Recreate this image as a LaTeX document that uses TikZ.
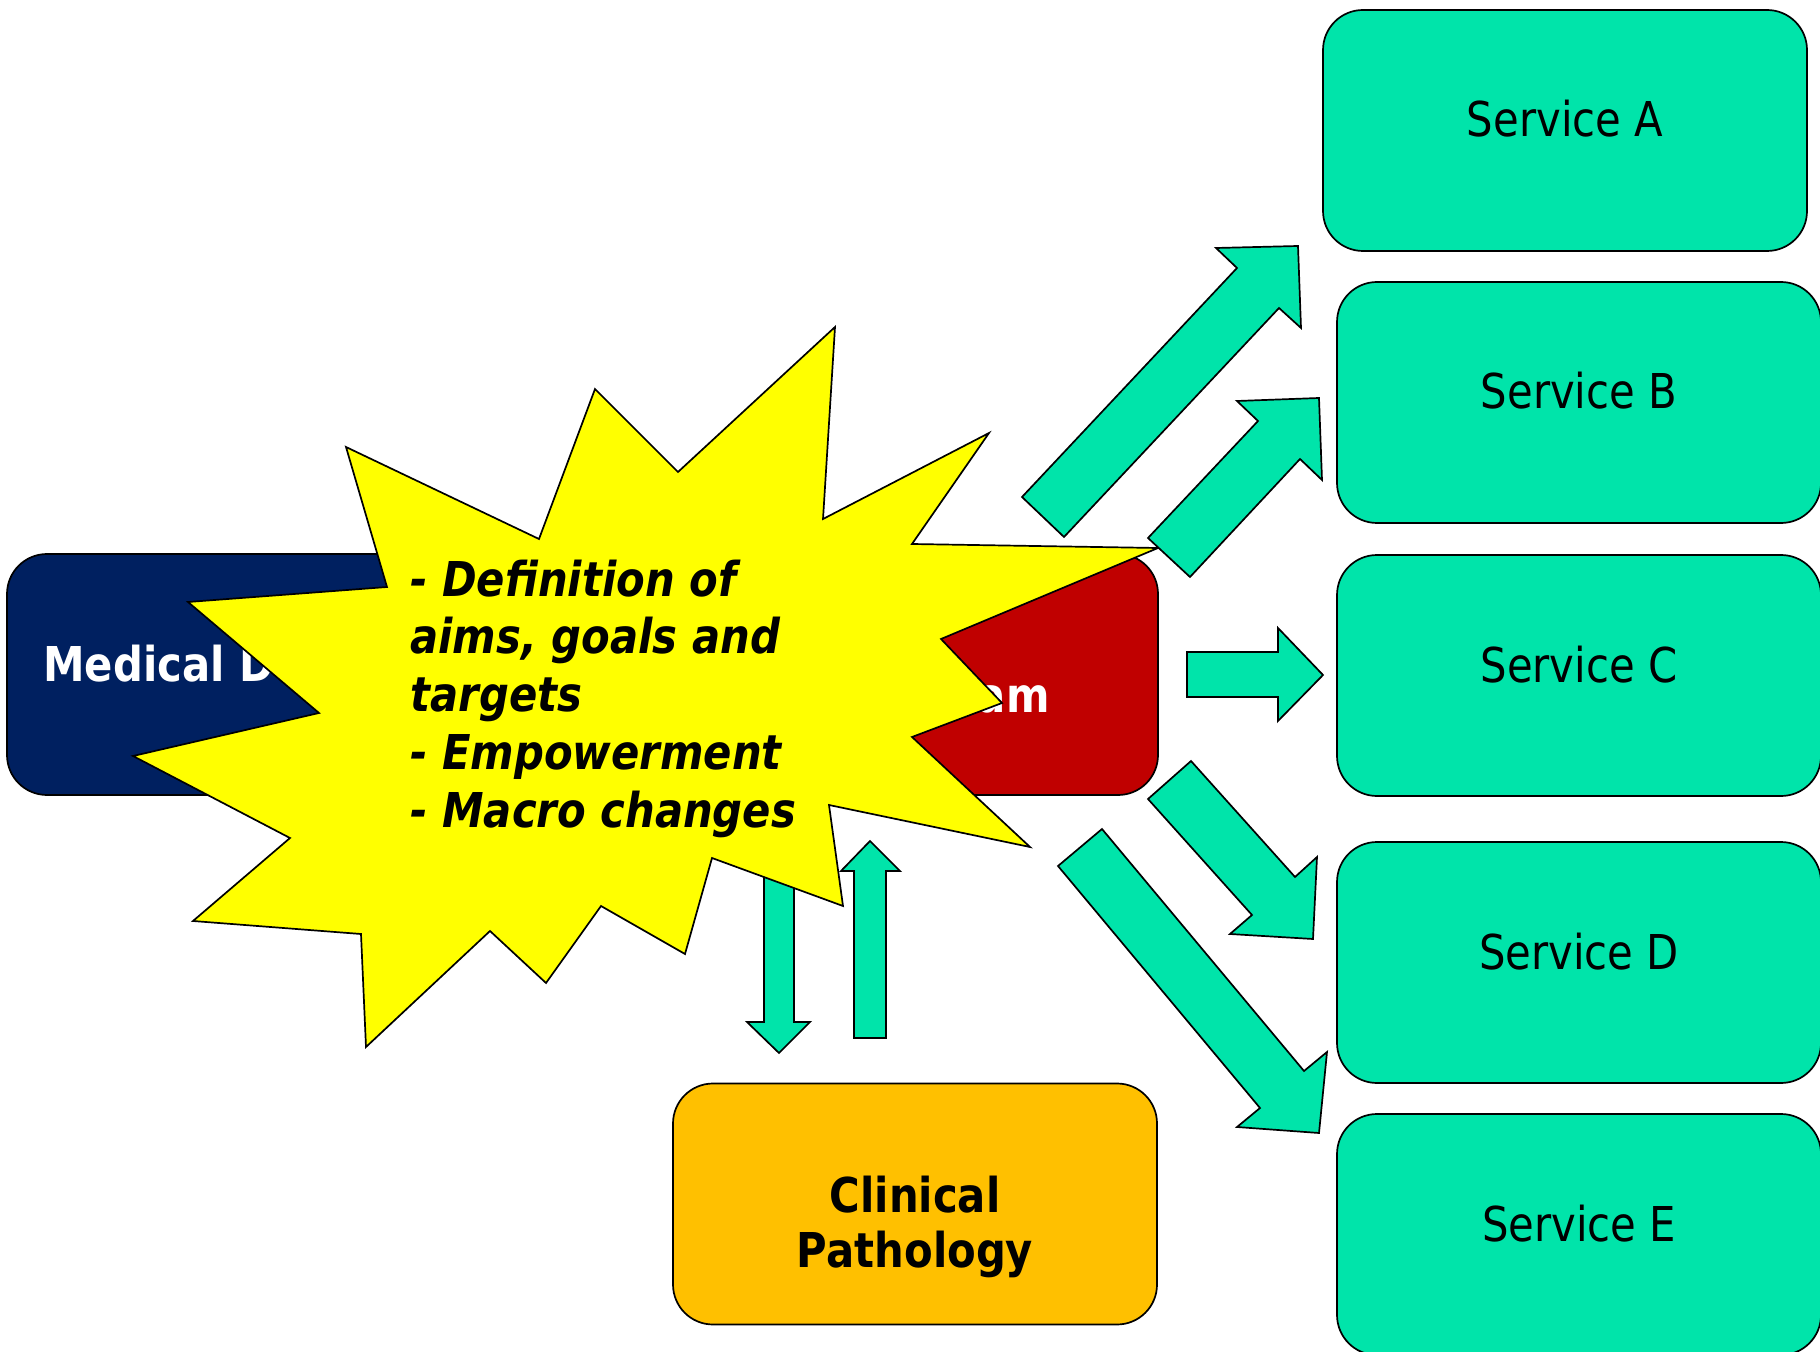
\documentclass[tikz,border=0pt]{standalone}
\usepackage{fontspec}
\setmainfont{DejaVu Sans}[FakeStretch=0.87,
  BoldFont={DejaVu Sans Bold},
  ItalicFont={DejaVu Sans Oblique},
  BoldItalicFont={DejaVu Sans Bold Oblique}]
\definecolor{svcgreen}{HTML}{00E4AA}
\definecolor{navybox}{HTML}{002060}
\definecolor{redbox}{HTML}{C00000}
\definecolor{orangebox}{HTML}{FFC000}
\definecolor{burstyellow}{HTML}{FFFF00}
\begin{document}
\begin{tikzpicture}[x=0.5pt, y=-0.5pt,
  box/.style={draw=black, line width=0.85pt, rounded corners=20pt,
    minimum width=242pt, minimum height=120.5pt, inner sep=0pt},
  svc/.style={box, fill=svcgreen},
  lbl/.style={inner sep=0pt, font=\fontsize{24pt}{28.8pt}\selectfont},
  lblb/.style={inner sep=0pt, font=\fontsize{24pt}{28.8pt}\selectfont\bfseries},
  blk/.style={draw=black, line width=0.85pt, fill=svcgreen, line join=miter},
  burst/.style={draw=black, line width=0.85pt, fill=burstyellow, line join=miter}]
\path[use as bounding box] (0,0) rectangle (1820,1352);

% service boxes
\node[svc] (A) at (1565,130.5) {};
\node[svc] (B) at (1579,402.5) {};
\node[svc] (C) at (1579,675.5) {};
\node[svc] (D) at (1579,962.5) {};
\node[svc] (E) at (1579,1234.5) {};
\node[lbl, anchor=base] (tA) at (1565,137) {Service A};
\node[lbl, anchor=base] (tB) at (1579,409) {Service B};
\node[lbl, anchor=base] (tC) at (1579,682) {Service C};
\node[lbl, anchor=base] (tD) at (1579,969) {Service D};
\node[lbl, anchor=base] (tE) at (1579,1241) {Service E};

% central boxes
\node[box, fill=navybox] (med) at (249,674.5) {};
\node[lblb, text=white, anchor=base west] (tmed) at (43,681) {Medical D};
\node[box, fill=redbox] (team) at (916,674.5) {};
\node[lblb, text=white, anchor=base east] (tteam) at (1050,712) {am};
\node[box, fill=orangebox] (path) at (915,1204) {};
\node[lblb, anchor=base] (tpath1) at (915,1212) {Clinical};
\node[lblb, anchor=base] (tpath2) at (915,1267) {Pathology};

% vertical block arrows
\draw[blk] (764,845) -- (794,845) -- (794,1022) -- (810,1022) -- (779,1053)
  -- (747,1022) -- (764,1022) -- cycle;
\draw[blk] (854,1038) -- (854,871) -- (841,871) -- (870,841) -- (900,871)
  -- (886,871) -- (886,1038) -- cycle;

% starburst
\draw[burst] (835,327) -- (823,519) -- (989,433) -- (912,544) -- (1158,548)
  -- (941,639) -- (1002,703) -- (912,737) -- (1030,847) -- (829,805)
  -- (843,906) -- (712,858) -- (685,954) -- (601,906) -- (546,983)
  -- (490,931) -- (366,1047) -- (361,934) -- (193,921) -- (290,838)
  -- (133,756) -- (319,713) -- (188,602) -- (387,587) -- (346,447)
  -- (539,539) -- (595,389) -- (678,472) -- cycle;
\node[inner sep=0pt, font=\fontsize{24pt}{28.85pt}\selectfont\bfseries\itshape,
  align=left, anchor=base west] (tburst) at (410,827)
  {- Definition of\\aims, goals and\\targets\\- Empowerment\\- Macro changes};

% right block arrows
\draw[blk] (1022,497) -- (1237,268) -- (1216,248) -- (1298,246) -- (1301,328)
  -- (1279,308) -- (1064,537) -- cycle;
\draw[blk] (1148,538) -- (1258,421) -- (1237,401) -- (1319,398) -- (1322,480)
  -- (1300,459) -- (1190,577) -- cycle;
\draw[blk] (1187,652) -- (1278,652) -- (1278,628) -- (1323,675) -- (1278,721)
  -- (1278,697) -- (1187,697) -- cycle;
\draw[blk] (1191,761) -- (1295,877) -- (1317,857) -- (1313,939) -- (1230,934)
  -- (1252,915) -- (1148,799) -- cycle;
\draw[blk] (1102,829) -- (1304,1071) -- (1327,1052) -- (1319,1133) -- (1237,1127)
  -- (1260,1108) -- (1058,866) -- cycle;
\end{tikzpicture}
\end{document}
